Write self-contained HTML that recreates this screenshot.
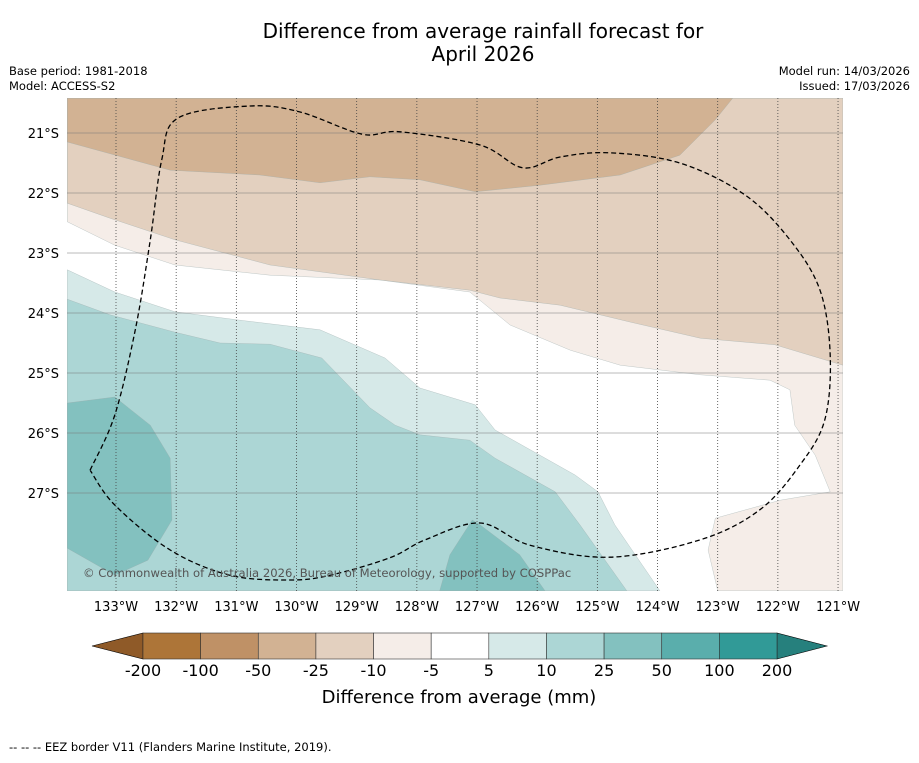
<!DOCTYPE html>
<html><head><meta charset="utf-8">
<style>
body{margin:0;background:#fff;font-family:"Liberation Sans","DejaVu Sans",sans-serif;}
svg text{font-family:"DejaVu Sans","Liberation Sans",sans-serif;}
</style></head>
<body>
<svg id="chart" width="919" height="758" xmlns="http://www.w3.org/2000/svg">
<rect width="919" height="758" fill="#fff"/>
<text x="483" y="38" text-anchor="middle" font-size="20">Difference from average rainfall forecast for</text>
<text x="483" y="61" text-anchor="middle" font-size="20">April 2026</text>
<text x="9" y="75" font-size="11.5">Base period: 1981-2018</text>
<text x="9" y="90" font-size="11.5">Model: ACCESS-S2</text>
<text x="910" y="75" font-size="11.5" text-anchor="end">Model run: 14/03/2026</text>
<text x="910" y="90" font-size="11.5" text-anchor="end">Issued: 17/03/2026</text>
<defs><clipPath id="mapclip"><rect x="67" y="98" width="776" height="493"/></clipPath></defs>
<g id="map" clip-path="url(#mapclip)"></g>
<g id="axes"></g>
<g id="cbar"></g>
<text x="459" y="703" text-anchor="middle" font-size="18">Difference from average (mm)</text>
<text x="9" y="751" font-size="11.5">--  --  -- EEZ border V11 (Flanders Marine Institute, 2019).</text>
</svg>
<script>
const NS="http://www.w3.org/2000/svg";
// axis data
const lonTicks=[-133,-132,-131,-130,-129,-128,-127,-126,-125,-124,-123,-122,-121];
const latTicks=[-21,-22,-23,-24,-25,-26,-27];
// colorbar data
const cbarLevels=[-200,-100,-50,-25,-10,-5,5,10,25,50,100,200];
const cbarColors=["#ad7538","#bf9166","#d2b293","#e3d0bf","#f5ede8","#ffffff","#d6e9e8","#acd6d5","#83c1bf","#5aaeac","#319a97"];
const cbarExtLow="#8f5a28", cbarExtHigh="#26807d";
// contour polygons [lon,lat]
const bandMinus10=[[-133.81,-20.42],[-120.92,-20.42],[-120.92,-28.63],[-123.0,-28.63],[-123.16,-27.95],[-123.04,-27.42],[-121.96,-27.12],[-121.13,-26.98],[-121.38,-26.37],[-121.72,-25.87],[-121.80,-25.28],[-122.13,-25.12],[-123.29,-25.03],[-124.62,-24.87],[-125.45,-24.62],[-126.45,-24.20],[-127.12,-23.65],[-128.61,-23.45],[-130.44,-23.37],[-132.02,-23.20],[-133.02,-22.87],[-133.81,-22.48]];
const bandMinus25=[[-133.81,-20.42],[-120.92,-20.42],[-120.92,-24.87],[-122.05,-24.53],[-123.29,-24.42],[-124.46,-24.15],[-125.62,-23.87],[-126.62,-23.75],[-127.12,-23.62],[-128.61,-23.45],[-130.44,-23.20],[-132.02,-22.78],[-133.10,-22.42],[-133.81,-22.17]];
const bandMinus50=[[-133.81,-20.42],[-122.75,-20.42],[-123.04,-20.78],[-123.63,-21.37],[-124.62,-21.70],[-125.95,-21.87],[-127.03,-21.98],[-127.95,-21.78],[-128.78,-21.73],[-129.61,-21.83],[-130.61,-21.70],[-132.10,-21.62],[-133.81,-21.15]];
const bandPlus5=[[-133.81,-23.28],[-133.02,-23.65],[-132.02,-23.98],[-130.94,-24.12],[-129.61,-24.28],[-128.53,-24.75],[-127.95,-25.25],[-127.03,-25.53],[-126.70,-25.95],[-125.37,-26.70],[-124.99,-26.98],[-124.71,-27.53],[-123.96,-28.63],[-133.81,-28.63]];
const bandPlus10=[[-133.81,-23.77],[-133.10,-24.03],[-132.02,-24.32],[-131.27,-24.50],[-130.44,-24.52],[-129.58,-24.75],[-128.78,-25.58],[-128.36,-25.87],[-127.95,-26.03],[-127.12,-26.12],[-126.70,-26.42],[-125.70,-26.98],[-125.29,-27.53],[-124.51,-28.63],[-133.81,-28.63]];
const bandPlus25a=[[-133.81,-25.50],[-133.02,-25.40],[-132.43,-25.87],[-132.10,-26.42],[-132.07,-27.45],[-132.47,-28.12],[-133.02,-28.37],[-133.81,-27.92]];
const bandPlus25b=[[-127.62,-28.63],[-127.45,-28.03],[-127.08,-27.45],[-126.95,-27.53],[-126.29,-28.03],[-125.87,-28.63]];
const eezBorder=[[-133.43,-26.62],[-133.02,-25.70],[-132.68,-24.28],[-132.43,-22.78],[-132.24,-21.45],[-131.97,-20.75],[-130.77,-20.55],[-129.94,-20.65],[-128.91,-21.02],[-128.28,-20.98],[-126.95,-21.20],[-126.24,-21.58],[-125.62,-21.40],[-124.79,-21.33],[-123.63,-21.50],[-122.55,-22.03],[-121.80,-22.78],[-121.30,-23.62],[-121.13,-24.70],[-121.22,-25.78],[-121.63,-26.53],[-122.30,-27.28],[-123.29,-27.78],[-124.79,-28.07],[-126.12,-27.87],[-126.95,-27.50],[-127.86,-27.78],[-128.45,-28.08],[-129.44,-28.37],[-130.11,-28.45],[-131.11,-28.37],[-132.10,-27.95],[-133.02,-27.20],[-133.43,-26.62]];

const X=lon=>116+(lon+133)*60.17;
const Y=lat=>133+(-21-lat)*60;
const map=document.getElementById('map');
function mk(tag,attrs,parent){const e=document.createElementNS(NS,tag);for(const k in attrs)e.setAttribute(k,attrs[k]);parent.appendChild(e);return e;}
function pts(arr){return arr.map(p=>X(p[0]).toFixed(1)+','+Y(p[1]).toFixed(1)).join(' ');}
function smoothPath(arr){
 const P=arr.map(p=>[X(p[0]),Y(p[1])]);
 let d='M'+P[0][0].toFixed(1)+','+P[0][1].toFixed(1);
 for(let i=0;i<P.length-1;i++){
  const p0=P[i-1]||P[i],p1=P[i],p2=P[i+1],p3=P[i+2]||p2;
  const c1=[p1[0]+(p2[0]-p0[0])/6,p1[1]+(p2[1]-p0[1])/6];
  const c2=[p2[0]-(p3[0]-p1[0])/6,p2[1]-(p3[1]-p1[1])/6];
  d+=` C${c1[0].toFixed(1)},${c1[1].toFixed(1)} ${c2[0].toFixed(1)},${c2[1].toFixed(1)} ${p2[0].toFixed(1)},${p2[1].toFixed(1)}`;
 }
 return d;
}
const layers=[[bandMinus10,"#f5ede8","band-minus10"],[bandMinus25,"#e3d0bf","band-minus25"],[bandMinus50,"#d2b293","band-minus50"],[bandPlus5,"#d6e9e8","band-plus5"],[bandPlus10,"#acd6d5","band-plus10"],[bandPlus25a,"#83c1bf","band-plus25-west"],[bandPlus25b,"#83c1bf","band-plus25-south"]];
layers.forEach(l=>{
 const p=mk('polygon',{points:pts(l[0]),fill:l[1],stroke:"#9aa",'stroke-width':0.3},map);
 
 
});
// gridlines
lonTicks.forEach(lon=>{
 const g=mk('line',{x1:X(lon),x2:X(lon),y1:98,y2:591,stroke:"#444",'stroke-width':0.8,'stroke-dasharray':'1,2'},map);
 
 
});
latTicks.forEach(lat=>{
 const g=mk('line',{x1:67,x2:843,y1:Y(lat),y2:Y(lat),stroke:"#777",'stroke-width':0.5},map);
 
 
});
const eez=mk('path',{d:smoothPath(eezBorder),fill:'none',stroke:'#000','stroke-width':1.3,'stroke-dasharray':'5,3'},map);


const cp=mk('text',{x:83,y:577,'font-size':11.6,fill:'#555'},map);


cp.textContent="© Commonwealth of Australia 2026, Bureau of Meteorology, supported by COSPPac";
// axis labels
const axes=document.getElementById('axes');
lonTicks.forEach(lon=>{
 const t=mk('text',{x:X(lon),y:611,'text-anchor':'middle','font-size':13},axes);
 
 
 t.textContent=Math.abs(lon)+'°W';
});
latTicks.forEach(lat=>{
 const t=mk('text',{x:59,y:Y(lat)+5,'text-anchor':'end','font-size':13},axes);
 
 
 t.textContent=Math.abs(lat)+'°S';
});
// colorbar
const cb=document.getElementById('cbar');
const cx0=143,cx1=777,cy0=633,cy1=659,n=cbarLevels.length-1,w=(cx1-cx0)/n;
const ext1=mk('polygon',{points:`${cx0},${cy0} ${cx0},${cy1} 92,${(cy0+cy1)/2}`,fill:cbarExtLow,stroke:'#000','stroke-width':0.6},cb);


const ext2=mk('polygon',{points:`${cx1},${cy0} ${cx1},${cy1} 827,${(cy0+cy1)/2}`,fill:cbarExtHigh,stroke:'#000','stroke-width':0.6},cb);


cbarColors.forEach((c,i)=>{
 const r=mk('rect',{x:cx0+i*w,y:cy0,width:w,height:cy1-cy0,fill:c,stroke:'#333','stroke-width':0.6},cb);
 
 
});
cbarLevels.forEach((v,i)=>{
 const t=mk('text',{x:cx0+i*w,y:676,'text-anchor':'middle','font-size':16},cb);
 
 
 t.textContent=v;
});
</script>
</body></html>
